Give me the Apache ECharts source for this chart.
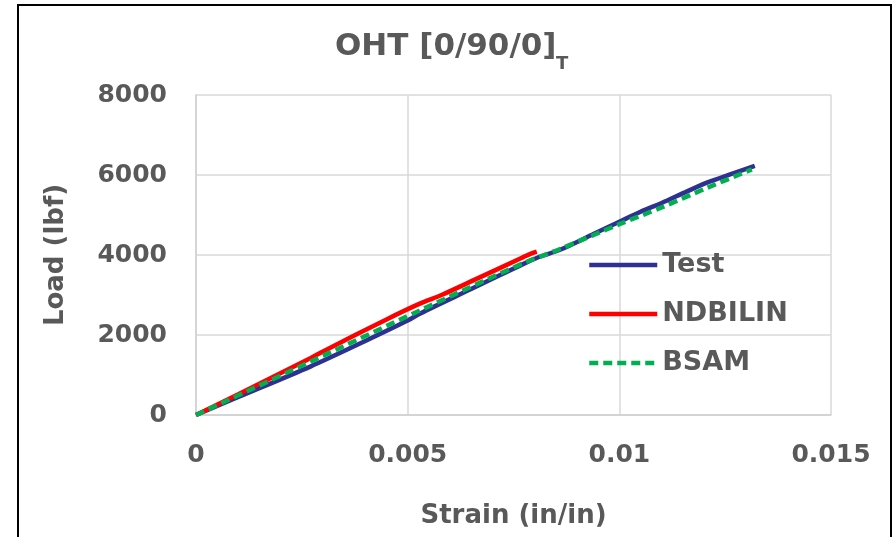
<!DOCTYPE html>
<html>
<head>
<meta charset="utf-8">
<script src="https://cdn.jsdelivr.net/npm/echarts@6/dist/echarts.min.js"></script>
<style>
html,body{margin:0;padding:0;background:#fff;}
#chart{width:893px;height:537px;}
</style>
</head>
<body>
<div id="chart"></div>
<script>
// ---- data ----
const xTicks = [0, 0.005, 0.01, 0.015];
const yTicks = [0, 2000, 4000, 6000, 8000];

const testStrain = [0, 0.0010, 0.0027, 0.0040, 0.0050, 0.0053, 0.0065, 0.0077, 0.0081, 0.0086, 0.0094, 0.0100, 0.0105, 0.0110, 0.0116, 0.0121, 0.0126, 0.0132];
const testLoad   = [0, 450, 1210, 1850, 2360, 2540, 3150, 3760, 3950, 4130, 4530, 4830, 5080, 5300, 5590, 5820, 6010, 6230];

const ndbStrain = [0, 0.0010, 0.0027, 0.0030, 0.0045, 0.0053, 0.0058, 0.0066, 0.0077, 0.0079, 0.00805];
const ndbLoad   = [0, 520, 1420, 1590, 2390, 2790, 3000, 3390, 3930, 4030, 4085];

const bsamStrain = [0, 0.0027, 0.0053, 0.0077, 0.0086, 0.0100, 0.0110, 0.0121, 0.01313];
const bsamLoad   = [0, 1330, 2620, 3780, 4150, 4770, 5190, 5690, 6140];

const seriesNames = ['Test', 'NDBILIN', 'BSAM'];

function pairs(xs, ys){ return xs.map((x,i)=>[x, ys[i]]); }

const FONT = 'DejaVu Sans';
const TXT = '#595959';

const chart = echarts.init(document.getElementById('chart'), null, {renderer:'canvas'});
chart.setOption({
  animation: false,
  backgroundColor: '#ffffff',
  grid: {left:196, right:62, top:95, bottom:122, containLabel:false},
  graphic: [
    {type:'rect', shape:{x:18, y:5, width:873, height:560}, style:{fill:'none', stroke:'#000', lineWidth:2}, silent:true, z:-1},
    {type:'text', left:335, top:31, style:{text:'OHT [0/90/0]', font:'bold 31px "DejaVu Sans"', fill:TXT}},
    {type:'text', left:556, top:55, style:{text:'T', font:'bold 18px "DejaVu Sans"', fill:TXT}}
  ],
  legend: {
    orient:'vertical', left:582, top:244, itemWidth:68, itemHeight:14, itemGap:17,
    data: seriesNames,
    itemStyle:{opacity:0},
    lineStyle:{width:4.5},
    textStyle:{fontFamily:FONT, fontWeight:'bold', fontSize:27, color:TXT, lineHeight:32}
  },
  xAxis: {
    type:'value', min:0, max:0.015, interval:0.005,
    name:'Strain (in/in)', nameLocation:'middle', nameGap:88,
    nameTextStyle:{fontFamily:FONT, fontWeight:'bold', fontSize:26, color:TXT},
    axisLine:{show:true, lineStyle:{color:'#D0D0D0', width:1.5}},
    axisTick:{show:false},
    axisLabel:{margin:28, fontFamily:FONT, fontWeight:'bold', fontSize:25, color:TXT,
      formatter: v => String(+v.toFixed(3))},
    splitLine:{show:true, lineStyle:{color:'#D9D9D9', width:1.5}}
  },
  yAxis: {
    type:'value', min:0, max:8000, interval:2000,
    name:'Load (lbf)', nameLocation:'middle', nameGap:127,
    nameTextStyle:{fontFamily:FONT, fontWeight:'bold', fontSize:26, color:TXT},
    axisLine:{show:true, lineStyle:{color:'#D0D0D0', width:1.5}},
    axisTick:{show:false},
    axisLabel:{margin:29, fontFamily:FONT, fontWeight:'bold', fontSize:25, color:TXT,
      formatter: v => String(v)},
    splitLine:{show:true, lineStyle:{color:'#D9D9D9', width:1.5}}
  },
  series: [
    {name:seriesNames[0], type:'line', data:pairs(testStrain, testLoad), showSymbol:false, symbol:'none', smooth:0.3,
     lineStyle:{color:'#2E3192', width:4.5}, itemStyle:{color:'#2E3192'}},
    {name:seriesNames[1], type:'line', data:pairs(ndbStrain, ndbLoad), showSymbol:false, symbol:'none', smooth:0.3,
     lineStyle:{color:'#FF0000', width:4.5}, itemStyle:{color:'#FF0000'}},
    {name:seriesNames[2], type:'line', data:pairs(bsamStrain, bsamLoad), showSymbol:false, symbol:'none', smooth:0.3,
     lineStyle:{color:'#00B050', width:4.5, type:[9,5]}, itemStyle:{color:'#00B050'}}
  ]
});
</script>
</body>
</html>
